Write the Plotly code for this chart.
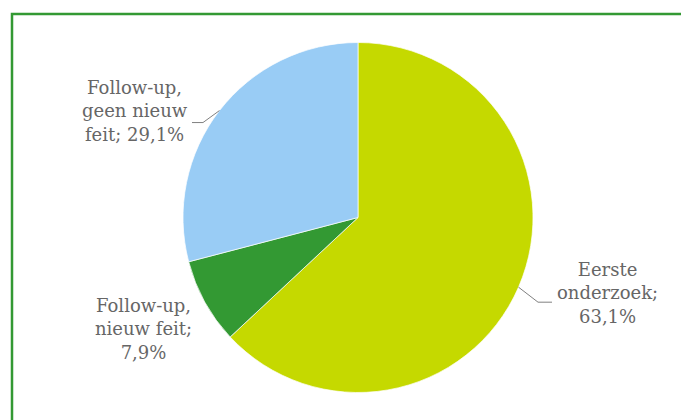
import math
import plotly.graph_objects as go

# ---- data ----
categories = ["Eerste onderzoek", "Follow-up, nieuw feit", "Follow-up, geen nieuw feit"]
label_lines = ["Eerste<br>onderzoek;<br>", "Follow-up,<br>nieuw feit;<br>", "Follow-up,<br>geen nieuw<br>feit; "]
values = [63.1, 7.9, 29.1]
colors = ["#C5D900", "#339933", "#99CCF5"]

W, H = 681, 420
cx, cy, R = 358.0, 217.5, 175.0  # pie centre / radius in px

def px_x(x):
    return x / W

def px_y(y):
    return 1 - y / H

fig = go.Figure(go.Pie(
    labels=categories,
    values=values,
    marker=dict(colors=colors, line=dict(color="white", width=0.7)),
    sort=False,
    direction="clockwise",
    rotation=0,
    textinfo="none",
    hoverinfo="label+percent",
    domain=dict(x=[px_x(cx - R), px_x(cx + R)], y=[px_y(cy + R), px_y(cy - R)]),
    showlegend=False,
))

# label positions (text centres, px) and leader line elbows
label_pos = [(607, 293), (143, 329), (135, 111)]
leader = [True, False, True]
elbow_end = [552, None, 192]

total = sum(values)
annotations = []
shapes = []
cum = 0.0
for i, v in enumerate(values):
    mid = (cum + v / 2) / total * 2 * math.pi
    cum += v
    txt = label_lines[i] + ("%.1f" % v).replace(".", ",") + "%"
    lx, ly = label_pos[i]
    annotations.append(dict(
        x=px_x(lx), y=px_y(ly), xref="paper", yref="paper",
        text=txt, showarrow=False, xanchor="center", yanchor="middle",
        align="center",
        font=dict(family="DejaVu Serif", size=18, color="#666666"),
    ))
    if leader[i]:
        sx = cx + R * math.sin(mid)
        sy = cy - R * math.cos(mid)
        ey = sy + (15 if i == 0 else 12)
        ex_mid = elbow_end[i] - (14 if i == 0 else -11)
        path = "M %f,%f L %f,%f L %f,%f" % (
            px_x(sx), px_y(sy), px_x(ex_mid), px_y(ey), px_x(elbow_end[i]), px_y(ey))
        shapes.append(dict(type="path", xref="paper", yref="paper", path=path,
                           line=dict(color="#808080", width=1)))

# outer green frame
shapes.append(dict(type="rect", xref="paper", yref="paper",
                   x0=px_x(12), x1=1.2, y0=-0.2, y1=px_y(14),
                   line=dict(color="#339933", width=2.5)))

fig.update_layout(
    width=W, height=H,
    margin=dict(l=0, r=0, t=0, b=0),
    paper_bgcolor="white",
    plot_bgcolor="white",
    annotations=annotations,
    shapes=shapes,
)

fig.write_html("out.html")
